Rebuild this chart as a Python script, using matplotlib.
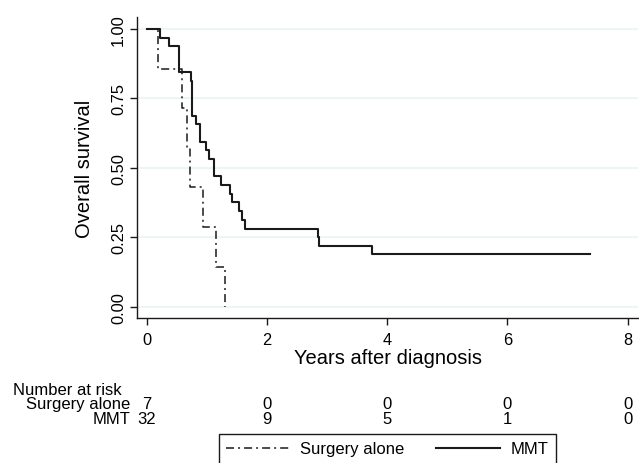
import matplotlib
matplotlib.use("Agg")
import matplotlib.pyplot as plt
from matplotlib.lines import Line2D
from matplotlib.transforms import blended_transform_factory

# ---- data ----
surgery_time = [0.0, 0.19, 0.58, 0.67, 0.72, 0.93, 1.16, 1.31]
surgery_surv = [1.0, 0.857, 0.714, 0.571, 0.429, 0.286, 0.143, 0.0]

mmt_time = [0.0, 0.22, 0.38, 0.54, 0.73, 0.76, 0.82, 0.88, 0.99, 1.04, 1.12,
            1.24, 1.38, 1.42, 1.54, 1.58, 1.63, 2.85, 2.87, 3.75, 7.37]
mmt_surv = [1.0, 0.969, 0.938, 0.844, 0.813, 0.688, 0.656, 0.594, 0.563, 0.531,
            0.469, 0.438, 0.406, 0.375, 0.344, 0.313, 0.281, 0.25, 0.219, 0.188, 0.188]

risk_times = [0, 2, 4, 6, 8]
risk_surgery = [7, 0, 0, 0, 0]
risk_mmt = [32, 9, 5, 1, 0]
group_labels = ["Surgery alone", "MMT"]

x_ticks = [0, 2, 4, 6, 8]
y_ticks = [0.0, 0.25, 0.5, 0.75, 1.0]
y_ticklabels = ["0.00", "0.25", "0.50", "0.75", "1.00"]

# ---- style ----
plt.rcParams['font.family'] = ['Liberation Sans', 'DejaVu Sans']
plt.rcParams['lines.scale_dashes'] = False
W, H = 639, 464
fig = plt.figure(figsize=(W / 100, H / 100), dpi=100)
ax = fig.add_axes([137 / W, 1 - 319 / H, (638 - 137) / W, (319 - 18) / H])

line_color = '#1a1a1a'
grid_color = '#eaf2f3'
dashdot = (5.8, 2.9, 1.4, 2.9)

ax.set_xlim(-0.16, 8.17)
ax.set_ylim(-0.041, 1.043)
for yt in y_ticks:
    ax.axhline(yt, color=grid_color, lw=1.1, zorder=0)

ax.step(mmt_time, mmt_surv, where='post', color=line_color, lw=1.5, zorder=3)
ax.step(surgery_time, surgery_surv, where='post', color=line_color, lw=1.1,
        dashes=dashdot, zorder=3)

for s in ['top', 'right']:
    ax.spines[s].set_visible(False)
for s in ['left', 'bottom']:
    ax.spines[s].set_linewidth(1.0)
    ax.spines[s].set_color(line_color)

ax.set_xticks(x_ticks)
ax.set_xticklabels([str(v) for v in x_ticks])
ax.set_yticks(y_ticks)
ax.set_yticklabels(y_ticklabels, rotation=90, va='center')
ax.tick_params(axis='both', length=5, width=1.0, color=line_color, labelsize=11.8)
ax.tick_params(axis='x', pad=5)
ax.tick_params(axis='y', pad=3)

ax.set_xlabel("Years after diagnosis", fontsize=14.5, labelpad=1)
ax.set_ylabel("Overall survival", fontsize=14.5, labelpad=12)

# ---- number at risk table ----
tr = blended_transform_factory(ax.transData, fig.transFigure)
fs = 12
fig.text(13 / W, 1 - 395 / H, "Number at risk", ha='left', va='baseline', fontsize=fs)
rows = [(group_labels[0], risk_surgery, 409), (group_labels[1], risk_mmt, 424)]
for label, vals, base in rows:
    fig.text(130 / W, 1 - base / H, label, ha='right', va='baseline', fontsize=fs)
    for t, v in zip(risk_times, vals):
        ax.text(t, 1 - base / H, str(v), transform=tr, ha='center', va='baseline',
                fontsize=fs, clip_on=False)

# ---- legend ----
handles = [Line2D([], [], color=line_color, lw=1.1, dashes=dashdot),
           Line2D([], [], color=line_color, lw=1.5)]
leg = fig.legend(handles, group_labels, loc='upper center',
                 bbox_to_anchor=(387.3 / W, 1 - 435 / H), ncol=2, frameon=True,
                 fancybox=False, edgecolor=line_color, framealpha=1,
                 borderpad=0.45, borderaxespad=0, handlelength=3.8,
                 handletextpad=0.65, columnspacing=1.9, fontsize=fs)
leg.get_frame().set_linewidth(1.0)

fig.savefig("out.png", dpi=100)
